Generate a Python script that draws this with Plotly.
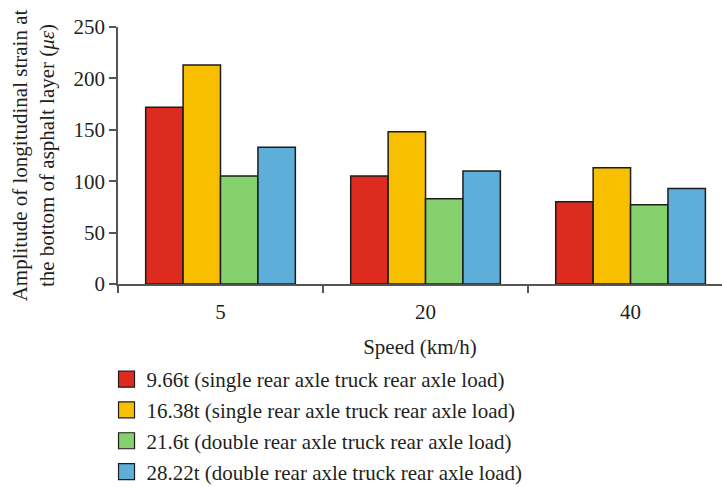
import plotly.graph_objects as go

# Vehicle speed categories (km/h)
speeds = ["5", "20", "40"]

# Amplitude of longitudinal strain at the bottom of asphalt layer (με)
load_966 = [172, 105, 80]
load_1638 = [213, 148, 113]
load_216 = [105, 83, 77]
load_2822 = [133, 110, 93]

series_names = [
    "9.66t (single rear axle truck rear axle load)",
    "16.38t (single rear axle truck rear axle load)",
    "21.6t (double rear axle truck rear axle load)",
    "28.22t (double rear axle truck rear axle load)",
]
series_values = [load_966, load_1638, load_216, load_2822]
colors = ["#DD2C1F", "#F8BE00", "#84D16D", "#5DAFDA"]

FONT = "Liberation Serif"
FS = 21
EDGE = "#1c1c1c"
AXIS = "#555555"
TXT = "#231f20"

fig = go.Figure()

for name, vals, col in zip(series_names, series_values, colors):
    fig.add_trace(go.Bar(
        x=speeds, y=vals, name=name,
        marker=dict(color=col, line=dict(color=EDGE, width=1.5)),
        showlegend=False, legendgroup=name,
    ))

# Legend entries drawn as square markers so the swatches are larger
for name, col in zip(series_names, colors):
    fig.add_trace(go.Scatter(
        x=[None], y=[None], mode="markers", name=name, legendgroup=name,
        marker=dict(symbol="square", size=16, color=col,
                    line=dict(color=EDGE, width=1.2)),
    ))

fig.update_layout(
    width=722, height=487,
    margin=dict(l=118, r=0, t=27, b=203),
    paper_bgcolor="white", plot_bgcolor="white",
    font=dict(family=FONT, size=FS, color=TXT),
    barmode="group", bargap=0.27, bargroupgap=0,
    legend=dict(
        x=-0.019, xanchor="left", y=1 - 359 / 487, yanchor="top", yref="container",
        orientation="v", traceorder="grouped", tracegroupgap=0.5,
        font=dict(family=FONT, size=FS, color=TXT),
        bgcolor="rgba(0,0,0,0)",
    ),
)

fig.update_xaxes(
    range=[-0.5, 2.446], showgrid=False, zeroline=False,
    showline=True, linecolor=AXIS, linewidth=1.5,
    ticks="outside", tickson="boundaries", ticklen=7,
    tickcolor=AXIS, tickwidth=1.5, ticklabelstandoff=8,
    automargin=False,
    title=dict(text="Speed (km/h)", standoff=24,
               font=dict(family=FONT, size=FS)),
)

fig.update_yaxes(
    range=[0, 250], tickvals=[0, 50, 100, 150, 200, 250],
    showgrid=False, zeroline=False,
    showline=True, linecolor=AXIS, linewidth=1.5,
    ticks="outside", ticklen=7, tickcolor=AXIS, tickwidth=1.5,
    automargin=False,
    title=dict(
        text="Amplitude of longitudinal strain at<br>the bottom of asphalt layer (<i>με</i>)",
        standoff=13, font=dict(family=FONT, size=FS),
    ),
)

fig.write_html("out.html")
